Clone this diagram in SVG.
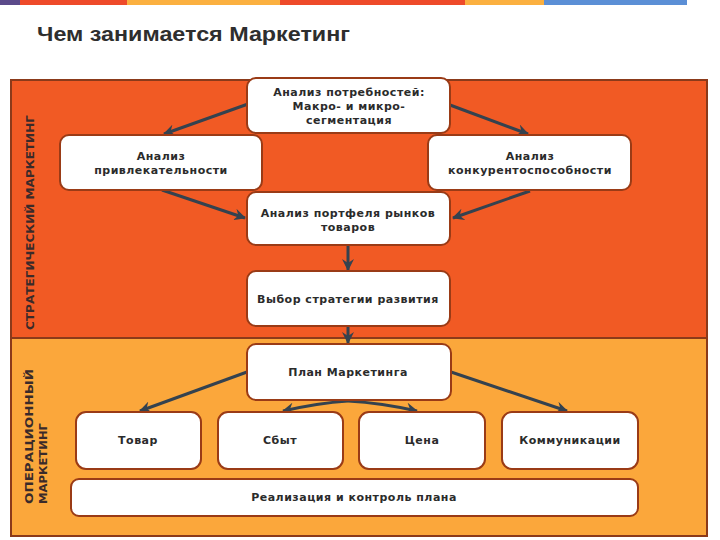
<svg xmlns="http://www.w3.org/2000/svg" width="720" height="540" viewBox="0 0 720 540">
<style>
.box{fill:#fff;stroke:#9a3b16;stroke-width:2}
.t{font-family:"DejaVu Sans",Verdana,sans-serif;font-weight:bold;font-size:11px;letter-spacing:0.5px;fill:#2b2b2b;text-anchor:middle}
.side{font-family:"DejaVu Sans",Verdana,sans-serif;font-weight:bold;font-size:10px;fill:#3a2a2a}
.c{fill:none;stroke:#34424f;stroke-width:3}
</style>
<defs>
<marker id="ah" markerUnits="userSpaceOnUse" markerWidth="14" markerHeight="12" refX="11" refY="6" orient="auto">
<path d="M0,0 L12,6 L0,12 L4,6 z" fill="#34424f"/>
</marker>
</defs>
<rect width="720" height="540" fill="#fff"/>
<g id="banner">
<rect x="0" y="0" width="22" height="5" fill="#5b4a8a"/>
<rect x="20" y="0" width="108" height="5" fill="#ee4a2a"/>
<rect x="127" y="0" width="154" height="5" fill="#fbb040"/>
<rect x="280" y="0" width="186" height="5" fill="#ee4a2a"/>
<rect x="465" y="0" width="80" height="5" fill="#fbb040"/>
<rect x="544" y="0" width="143" height="5" fill="#5b8fd6"/>
</g>
<text x="37" y="41" font-family="'Liberation Sans',Arial,sans-serif" font-weight="bold" font-size="20" fill="#2e2e2e" textLength="313" lengthAdjust="spacingAndGlyphs">Чем занимается Маркетинг</text>
<g id="frame">
<rect x="11" y="80" width="696" height="258" fill="#f15a24"/>
<rect x="11" y="338" width="696" height="198" fill="#fba73b"/>
<rect x="11" y="80" width="696" height="456" fill="none" stroke="#8b3a1a" stroke-width="2"/>
<line x1="11" y1="338" x2="707" y2="338" stroke="#8b3a1a" stroke-width="2"/>
<text class="side" transform="translate(34,330) rotate(-90)" textLength="215" lengthAdjust="spacingAndGlyphs">СТРАТЕГИЧЕСКИЙ МАРКЕТИНГ</text>
<text class="side" transform="translate(33,504) rotate(-90)" textLength="135" lengthAdjust="spacingAndGlyphs">ОПЕРАЦИОННЫЙ</text>
<text class="side" transform="translate(47,504) rotate(-90)" textLength="81" lengthAdjust="spacingAndGlyphs">МАРКЕТИНГ</text>
</g>
<g id="connectors">
<line class="c" x1="248" y1="104" x2="164" y2="134" marker-end="url(#ah)"/>
<line class="c" x1="450" y1="105" x2="528" y2="134" marker-end="url(#ah)"/>
<line class="c" x1="162" y1="190" x2="245" y2="218" marker-end="url(#ah)"/>
<line class="c" x1="530" y1="191" x2="453" y2="218" marker-end="url(#ah)"/>
<line class="c" x1="348" y1="246" x2="348" y2="270" marker-end="url(#ah)"/>
<line class="c" x1="348" y1="327" x2="348" y2="343" marker-end="url(#ah)"/>
<line class="c" x1="247" y1="372" x2="140" y2="411" marker-end="url(#ah)"/>
<line class="c" x1="451" y1="372" x2="567" y2="411" marker-end="url(#ah)"/>
<path class="c" d="M348,401 Q318,403 283,411" marker-end="url(#ah)"/>
<path class="c" d="M348,401 Q382,403 417,411" marker-end="url(#ah)"/>
</g>
<g id="n1"><rect class="box" x="247" y="78" width="203" height="55" rx="9"/>
<text class="t" x="349" y="96">Анализ потребностей:</text>
<text class="t" x="349" y="110">Макро- и микро-</text>
<text class="t" x="349" y="124">сегментация</text></g>
<g id="n2"><rect class="box" x="60" y="135" width="202" height="55" rx="9"/>
<text class="t" x="161" y="160">Анализ</text>
<text class="t" x="161" y="174">привлекательности</text></g>
<g id="n3"><rect class="box" x="428" y="135" width="203" height="55" rx="9"/>
<text class="t" x="530" y="160">Анализ</text>
<text class="t" x="530" y="174">конкурентоспособности</text></g>
<g id="n4"><rect class="box" x="247" y="192" width="203" height="53" rx="9"/>
<text class="t" x="348" y="217">Анализ портфеля рынков</text>
<text class="t" x="348" y="231">товаров</text></g>
<g id="n5"><rect class="box" x="247" y="271" width="203" height="55" rx="9"/>
<text class="t" x="348" y="303">Выбор стратегии развития</text></g>
<g id="n6"><rect class="box" x="247" y="344" width="204" height="56" rx="9"/>
<text class="t" x="348" y="376">План Маркетинга</text></g>
<g id="n7"><rect class="box" x="76" y="412" width="125" height="57" rx="10"/>
<text class="t" x="138" y="444">Товар</text></g>
<g id="n8"><rect class="box" x="218" y="412" width="125" height="57" rx="10"/>
<text class="t" x="280" y="444">Сбыт</text></g>
<g id="n9"><rect class="box" x="359" y="412" width="126" height="57" rx="10"/>
<text class="t" x="422" y="444">Цена</text></g>
<g id="n10"><rect class="box" x="502" y="412" width="136" height="57" rx="10"/>
<text class="t" x="570" y="444">Коммуникации</text></g>
<g id="n11"><rect class="box" x="71" y="479" width="567" height="37" rx="8"/>
<text class="t" x="354" y="501">Реализация и контроль плана</text></g>
</svg>
